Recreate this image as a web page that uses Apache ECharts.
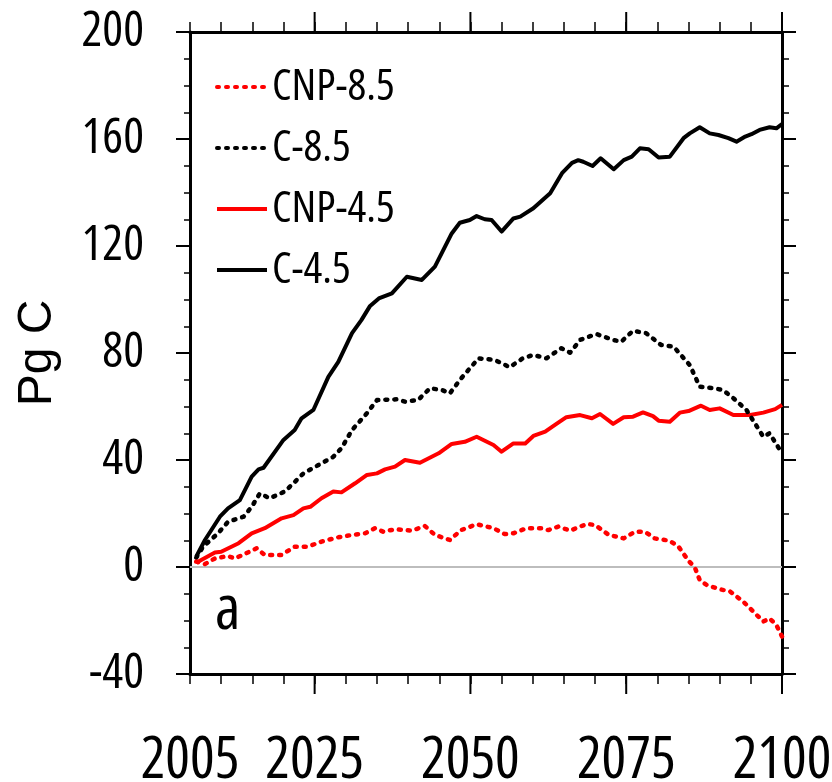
<!DOCTYPE html>
<html>
<head>
<meta charset="utf-8">
<script src="https://cdn.jsdelivr.net/npm/echarts@6/dist/echarts.min.js"></script>
<style>
html,body{margin:0;padding:0;background:#fff;}
#chart{width:832px;height:782px;}
</style>
</head>
<body>
<div id="chart"></div>
<script>
// ---- data ----
var seriesNames = ['CNP-8.5', 'C-8.5', 'CNP-4.5', 'C-4.5'];
var xTickLabels = [2005, 2025, 2050, 2075, 2100];
var xMajorTicks = [2025, 2050, 2075, 2100];
var yTickLabels = [-40, 0, 40, 80, 120, 160, 200];
var yMin = -40, yMax = 200;

var cnp85Years = [2006, 2007.4, 2009, 2011.1, 2012.2, 2013.8, 2015.7, 2017, 2019.7, 2021.8, 2023.9, 2026.1, 2028.8, 2031, 2033.1, 2034.7, 2036, 2037.9, 2040.6, 2042.7, 2044.3, 2046.7, 2048.5, 2051, 2053.7, 2055.5, 2056.9, 2059, 2061.5, 2062.5, 2064.1, 2066, 2068.7, 2070, 2072.2, 2074.6, 2076.4, 2078, 2079.6, 2082, 2083.4, 2085, 2086, 2086.8, 2087.9, 2090, 2091.7, 2093.8, 2094.9, 2097, 2098, 2099.1, 2100];
var cnp85Values = [2.0, 1.1, 3.2, 4.1, 3.2, 4.9, 7.0, 4.5, 4.5, 7.6, 7.6, 9.5, 11.1, 12.0, 12.6, 14.5, 13.2, 14.1, 13.6, 15.3, 12.0, 10.1, 13.8, 16.0, 14.5, 12.3, 12.6, 14.5, 14.5, 13.8, 15.1, 13.6, 16.1, 15.7, 12.0, 10.7, 13.2, 13.2, 10.7, 9.8, 7.6, 2.3, -0.1, -4.9, -6.7, -8.3, -9.2, -13.0, -15.5, -20.4, -19.2, -21.7, -26.0];

var c85Years = [2006, 2007.1, 2009.5, 2011.1, 2013.6, 2014.9, 2016.2, 2017.8, 2020.2, 2021.6, 2023.2, 2025.6, 2028, 2029.3, 2031, 2033.4, 2035, 2038.2, 2039.5, 2041.6, 2043.5, 2045.4, 2046.7, 2048.5, 2051.3, 2053.9, 2056.3, 2058.4, 2060.1, 2062.2, 2064.6, 2066, 2067.6, 2070.2, 2072.9, 2074.2, 2076.1, 2078.2, 2080.6, 2082.6, 2085.2, 2086.8, 2089, 2090.5, 2092.2, 2094.3, 2097, 2098, 2100];
var c85Values = [3.5, 7.6, 12.6, 16.9, 18.8, 22.5, 27.5, 25.7, 28.2, 31.3, 35.0, 38.1, 41.2, 44.4, 51.2, 57.5, 62.4, 62.7, 61.8, 62.4, 66.8, 66.2, 64.9, 70.5, 78.0, 77.4, 74.7, 78.0, 79.3, 78.0, 81.8, 80.1, 84.9, 87.1, 84.9, 84.2, 88.3, 87.4, 83.0, 82.4, 75.5, 67.4, 66.8, 66.2, 63.1, 58.7, 48.7, 50.0, 42.5];

var cnp45Years = [2006, 2009, 2010, 2012.8, 2014.9, 2017, 2019.7, 2021.6, 2023.2, 2024.3, 2026.1, 2028, 2029.3, 2031.5, 2033.4, 2035, 2036.3, 2037.9, 2039.5, 2041.9, 2044.9, 2047, 2049.1, 2051, 2053.7, 2055, 2056.9, 2058.8, 2060.1, 2062, 2063.8, 2065.4, 2067.6, 2069.5, 2070.8, 2072.9, 2074.6, 2076.1, 2077.7, 2079.3, 2080.2, 2082, 2083.6, 2085, 2087, 2088.4, 2090, 2092.2, 2094.9, 2097, 2098.9, 2100];
var cnp45Values = [1.6, 5.4, 5.7, 8.9, 12.6, 14.5, 18.2, 19.4, 21.9, 22.5, 25.7, 28.2, 27.9, 31.3, 34.4, 35.0, 36.5, 37.5, 40.0, 39.0, 42.5, 46.0, 46.8, 48.7, 45.6, 43.1, 46.2, 46.2, 49.0, 50.6, 53.5, 56.0, 56.8, 55.6, 57.2, 53.5, 56.0, 56.2, 57.8, 56.4, 54.7, 54.3, 57.7, 58.3, 60.3, 58.7, 59.3, 56.8, 56.8, 57.7, 59.0, 60.6];

var c45Years = [2006, 2007.4, 2009.8, 2011.1, 2013, 2014.9, 2016, 2016.8, 2020, 2021.8, 2022.9, 2024.8, 2027.2, 2028.8, 2031, 2032.5, 2033.9, 2035.3, 2037.4, 2039.8, 2042.2, 2044.3, 2047, 2048.3, 2049.9, 2051, 2052.3, 2053.4, 2055, 2056.9, 2058, 2060.1, 2062.8, 2064.7, 2066.3, 2067.3, 2068.1, 2069.6, 2070.9, 2073, 2074.6, 2075.9, 2077.2, 2078.6, 2080.2, 2082, 2084.2, 2085.2, 2086.8, 2088.4, 2089.8, 2091.4, 2092.7, 2094.1, 2095.1, 2096.4, 2098, 2099.1, 2100];
var c45Values = [3.9, 10.1, 18.8, 21.9, 25.0, 33.8, 36.5, 37.1, 47.5, 51.2, 55.6, 58.7, 71.1, 76.7, 87.4, 92.3, 97.6, 100.4, 102.3, 108.5, 107.3, 112.3, 124.7, 128.7, 129.7, 131.2, 130.0, 129.7, 125.4, 130.3, 131.0, 134.1, 139.7, 147.2, 151.1, 152.1, 151.5, 149.9, 152.8, 148.7, 152.1, 153.4, 156.5, 156.2, 153.1, 153.4, 160.3, 162.1, 164.4, 162.1, 161.5, 160.3, 159.0, 160.9, 161.8, 163.4, 164.4, 164.0, 165.6];

var panelLabel = 'a';
var yAxisTitle = 'Pg C';

function pairs(xs, ys) { return xs.map(function (x, i) { return [x, ys[i]]; }); }

// ---- pick the narrowest installed condensed face (the reference uses tall, narrow glyphs) ----
var ctx = document.createElement('canvas').getContext('2d');
function widthPerPx(weight, family, txt) {
  ctx.font = '10px serif';
  ctx.font = weight + ' 100px ' + family;
  if (ctx.font.indexOf('100px') < 0) return 999;
  return ctx.measureText(txt).width / 100;
}
var REG = '"Liberation Sans", Arial, sans-serif';
var regW = widthPerPx('normal', REG, '2005');
var candidates = [
  { w: 'normal', f: '"Liberation Sans Narrow"' },
  { w: 'condensed', f: '"Open Sans"' },
  { w: 'condensed', f: 'Roboto' },
  { w: 'condensed', f: '"Noto Sans"' },
  { w: 'normal', f: '"DejaVu Sans Condensed"' },
  { w: 'condensed', f: '"DejaVu Sans"' },
  { w: 'condensed', f: '"Liberation Sans"' }
];
var best = { w: 'normal', f: REG, r: regW };
candidates.forEach(function (c) {
  var fam = c.f + ', monospace';
  var r = widthPerPx(c.w, fam, '2005');
  var mono = widthPerPx(c.w, 'monospace', '2005');
  if (Math.abs(r - mono) < 0.01) return; // not installed
  if (r < best.r - 0.05) best = { w: c.w, f: fam, r: r };
});
var NF = best.f, NW = best.w;
function fitSize(txt, maxSize, maxWidth) {
  var r = widthPerPx(NW, NF, txt);
  return Math.min(maxSize, Math.floor(maxWidth / r));
}
var xLabelSize = fitSize('2005', 58, 100);
var yLabelSize = fitSize('200', 49, 68);
var legendSize = fitSize('CNP-8.5', 44, 125);

var dotted = [2, 7];
var chart = echarts.init(document.getElementById('chart'), null, { renderer: 'canvas' });

function valueX(pos) {
  return {
    type: 'value', position: pos, min: 2005, max: 2100, interval: 5,
    splitLine: { show: false },
    axisLine: { show: true, onZero: false, lineStyle: { color: '#000', width: 3 } },
    axisTick: { show: true, length: 10, lineStyle: { color: '#000', width: 1.5 } },
    axisLabel: { show: false }
  };
}
var bottomAxis = valueX('bottom');
bottomAxis.axisLabel = {
  show: true, customValues: xTickLabels, showMinLabel: true, showMaxLabel: true, hideOverlap: false,
  margin: 58, color: '#000', fontFamily: NF, fontWeight: NW, fontSize: xLabelSize,
  formatter: function (v) { return String(v); }
};

var option = {
  backgroundColor: '#fff',
  animation: false,
  grid: { left: 190, right: 50, top: 32, bottom: 108, containLabel: false, outerBoundsMode: 'none' },
  legend: {
    left: 210, top: 60, orient: 'vertical', itemGap: 61 - Math.max(legendSize, 14),
    itemWidth: 50, itemHeight: 14,
    data: seriesNames,
    itemStyle: { opacity: 0, borderWidth: 0 },
    lineStyle: { width: 4 },
    textStyle: { fontFamily: NF, fontWeight: NW, fontSize: legendSize, color: '#000' }
  },
  xAxis: [bottomAxis, valueX('top')],
  yAxis: [
    {
      type: 'value', min: yMin, max: yMax, interval: 40, position: 'left',
      name: yAxisTitle, nameLocation: 'middle', nameRotate: 90, nameGap: 128,
      nameTextStyle: { fontFamily: REG, fontSize: 48, color: '#000' },
      splitLine: { show: false },
      axisLine: { show: true, onZero: false, lineStyle: { color: '#000', width: 3 } },
      axisTick: { show: true, length: 14, lineStyle: { color: '#000', width: 2 } },
      minorTick: { show: true, splitNumber: 4, length: 6, lineStyle: { color: '#000', width: 1.5 } },
      axisLabel: {
        show: true, customValues: yTickLabels, showMinLabel: true, showMaxLabel: true,
        margin: 46, color: '#000', fontFamily: NF, fontWeight: NW, fontSize: yLabelSize,
        formatter: function (v) { return String(v); }
      }
    },
    {
      type: 'value', min: yMin, max: yMax, interval: 40, position: 'right',
      splitLine: { show: false },
      axisLine: { show: true, onZero: false, lineStyle: { color: '#000', width: 3 } },
      axisTick: { show: true, inside: false, length: 14, lineStyle: { color: '#000', width: 2 } },
      minorTick: { show: true, splitNumber: 4, length: 7, lineStyle: { color: '#000', width: 1.5 } },
      axisLabel: { show: false }
    }
  ],
  graphic: [
    { id: 'panel', type: 'text', left: 215, top: 580, style: { text: panelLabel, fontFamily: NF, fontWeight: NW, fontSize: 62, fill: '#000' }, z: 10 }
  ],
  series: [
    {
      name: 'C-4.5', type: 'line', xAxisIndex: 0, yAxisIndex: 0, data: pairs(c45Years, c45Values), symbol: 'none',
      lineStyle: { color: '#000', width: 4, join: 'round' }, itemStyle: { color: '#000' },
      markLine: {
        silent: true, symbol: ['none', 'none'], label: { show: false },
        lineStyle: { color: '#bdbdbd', width: 2, type: 'solid' },
        data: [{ yAxis: 0 }]
      }, z: 2
    },
    {
      name: 'CNP-4.5', type: 'line', xAxisIndex: 0, yAxisIndex: 0, data: pairs(cnp45Years, cnp45Values), symbol: 'none',
      lineStyle: { color: '#ff0000', width: 4, join: 'round' }, itemStyle: { color: '#ff0000' }, z: 3
    },
    {
      name: 'C-8.5', type: 'line', xAxisIndex: 0, yAxisIndex: 0, data: pairs(c85Years, c85Values), symbol: 'none',
      lineStyle: { color: '#000', width: 4.5, type: dotted, cap: 'round', join: 'round' }, itemStyle: { color: '#000' }, z: 4
    },
    {
      name: 'CNP-8.5', type: 'line', xAxisIndex: 0, yAxisIndex: 0, data: pairs(cnp85Years, cnp85Values), symbol: 'none',
      lineStyle: { color: '#ff0000', width: 4.5, type: dotted, cap: 'round', join: 'round' }, itemStyle: { color: '#ff0000' }, z: 5
    }
  ]
};
chart.setOption(option);

// long x ticks at the labelled years, placed through the chart's own x/y scales
var tickGraphics = [];
xMajorTicks.forEach(function (yr, i) {
  var lo = chart.convertToPixel({ xAxisIndex: 0, yAxisIndex: 0 }, [yr, yMin]);
  var hi = chart.convertToPixel({ xAxisIndex: 0, yAxisIndex: 0 }, [yr, yMax]);
  var st = { stroke: '#000', lineWidth: 2 };
  tickGraphics.push({ id: 'tb' + i, type: 'line', shape: { x1: lo[0], y1: lo[1], x2: lo[0], y2: lo[1] + 20 }, style: st, z: 20, silent: true });
  tickGraphics.push({ id: 'tt' + i, type: 'line', shape: { x1: hi[0], y1: hi[1], x2: hi[0], y2: hi[1] - 20 }, style: st, z: 20, silent: true });
});
chart.setOption({ graphic: tickGraphics });
</script>
</body>
</html>
